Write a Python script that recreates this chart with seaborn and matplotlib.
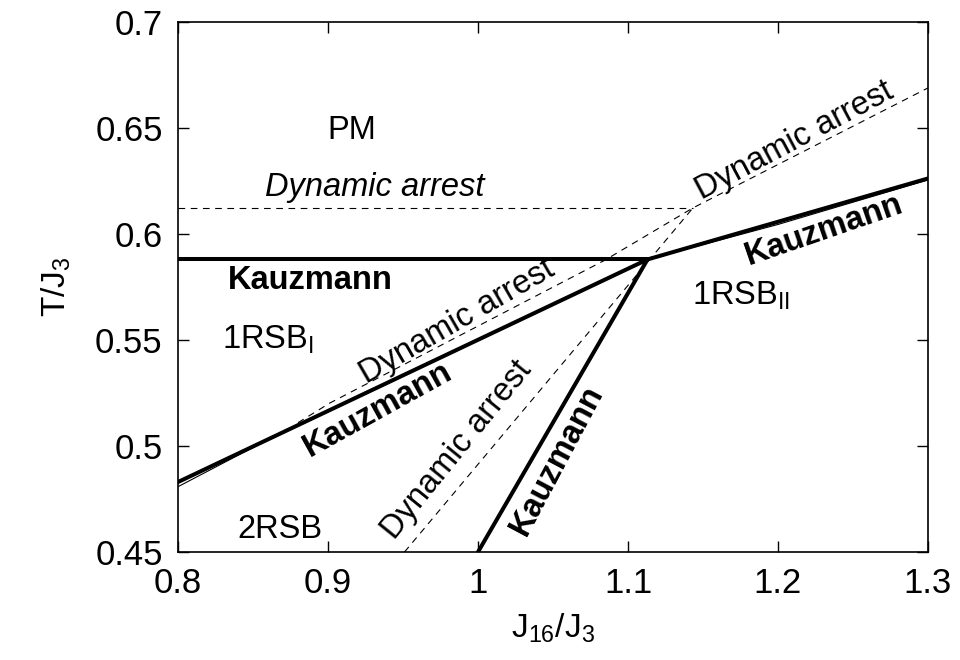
import numpy as np
import pandas as pd
import matplotlib
matplotlib.use("Agg")
import matplotlib.pyplot as plt
import seaborn as sns

# ---- data ----
kauz_h_x = [0.8, 1.113]
kauz_h_y = [0.588, 0.588]
kauz_ur_x = [1.113, 1.3]
kauz_ur_y = [0.588, 0.6262]
kauz_ll_x = [0.8, 1.113]
kauz_ll_y = [0.483, 0.588]
kauz_st_x = [1.0, 1.113]
kauz_st_y = [0.45, 0.588]

thin_ur_x = [1.113, 1.2, 1.3]
thin_ur_y = [0.588, 0.6045, 0.6255]
thin_ll_x = [0.8, 0.86]
thin_ll_y = [0.4808, 0.5030]

dyn_h_x = [0.8, 1.1433]
dyn_h_y = [0.6123, 0.6123]
dyn_main_x = [0.88, 0.9013, 1.0847, 1.1433, 1.3]
dyn_main_y = [0.511, 0.5203, 0.5877, 0.6123, 0.6689]
dyn_st_x = [0.951, 1.1433]
dyn_st_y = [0.45, 0.6123]

x_ticks = [0.8, 0.9, 1.0, 1.1, 1.2, 1.3]
x_tick_labels = ["0.8", "0.9", "1", "1.1", "1.2", "1.3"]
y_ticks = [0.45, 0.5, 0.55, 0.6, 0.65, 0.7]
y_tick_labels = ["0.45", "0.5", "0.55", "0.6", "0.65", "0.7"]

sns.set_theme(style="ticks")
plt.rcParams["font.family"] = ["Liberation Sans", "DejaVu Sans"]
plt.rcParams["mathtext.fontset"] = "custom"
plt.rcParams["mathtext.rm"] = "Liberation Sans"
plt.rcParams["mathtext.it"] = "Liberation Sans:italic"
plt.rcParams["mathtext.bf"] = "Liberation Sans:bold"
plt.rcParams["text.color"] = "black"
plt.rcParams["axes.labelcolor"] = "black"
plt.rcParams["xtick.color"] = "black"
plt.rcParams["ytick.color"] = "black"

fig = plt.figure(figsize=(9.6, 6.6), dpi=100)
ax = fig.add_axes([178/960, 1-552/660, 750/960, 530/660])

def draw(xs, ys, lw, ls="-"):
    df = pd.DataFrame({"x": xs, "y": ys})
    sns.lineplot(data=df, x="x", y="y", ax=ax, color="black", linewidth=lw,
                 linestyle=ls, sort=False, estimator=None, legend=False)

dash = (0, (6, 5))
draw(dyn_h_x, dyn_h_y, 0.8, dash)
draw(dyn_main_x, dyn_main_y, 0.8, dash)
draw(dyn_st_x, dyn_st_y, 0.8, dash)
draw(thin_ur_x, thin_ur_y, 0.8)
draw(thin_ll_x, thin_ll_y, 0.8)
draw(kauz_h_x, kauz_h_y, 2.9)
draw(kauz_ur_x, kauz_ur_y, 2.9)
draw(kauz_ll_x, kauz_ll_y, 2.9)
draw(kauz_st_x, kauz_st_y, 2.9)

ax.set_xlim(0.8, 1.3)
ax.set_ylim(0.45, 0.7)
ax.set_xticks(x_ticks)
ax.set_xticklabels(x_tick_labels)
ax.set_yticks(y_ticks)
ax.set_yticklabels(y_tick_labels)
ax.tick_params(direction="in", length=8, width=1.0, top=True, right=True,
               labelsize=25, pad=11, colors="black")
for s in ax.spines.values():
    s.set_linewidth(1.2)
    s.set_color("black")
    s.set_visible(True)

ax.set_xlabel("J$_{16}$/J$_3$", fontsize=24, labelpad=8, color="black")
ax.set_ylabel("T/J$_3$", fontsize=24, labelpad=16, color="black")

fs = 23.5
ax.text(0.916, 0.649, "PM", fontsize=fs, ha="center", va="center")
ax.text(0.931, 0.622, "Dynamic arrest", fontsize=fs, style="italic", ha="center", va="center")
ax.text(0.888, 0.578, "Kauzmann", fontsize=fs, weight="bold", ha="center", va="center")
ax.text(0.86, 0.55, "1RSB$_{\\mathrm{I}}$", fontsize=fs, ha="center", va="center")
ax.text(0.986, 0.5585, "Dynamic arrest", fontsize=fs, rotation=30, ha="center", va="center",
        rotation_mode="anchor")
ax.text(0.933, 0.517, "Kauzmann", fontsize=fs, weight="bold", rotation=29, ha="center",
        va="center", rotation_mode="anchor")
ax.text(0.986, 0.498, "Dynamic arrest", fontsize=fs, rotation=51, ha="center", va="center",
        rotation_mode="anchor")
ax.text(1.053, 0.4934, "Kauzmann", fontsize=fs, weight="bold", rotation=62, ha="center",
        va="center", rotation_mode="anchor")
ax.text(1.231, 0.6019, "Kauzmann", fontsize=fs, weight="bold", rotation=19, ha="center",
        va="center", rotation_mode="anchor")
ax.text(1.175, 0.571, "1RSB$_{\\mathrm{II}}$", fontsize=fs, ha="center", va="center")
ax.text(1.211, 0.644, "Dynamic arrest", fontsize=fs, rotation=28, ha="center", va="center",
        rotation_mode="anchor")
ax.text(0.868, 0.4604, "2RSB", fontsize=fs, ha="center", va="center")

fig.savefig("out.png", dpi=100, facecolor="white")
